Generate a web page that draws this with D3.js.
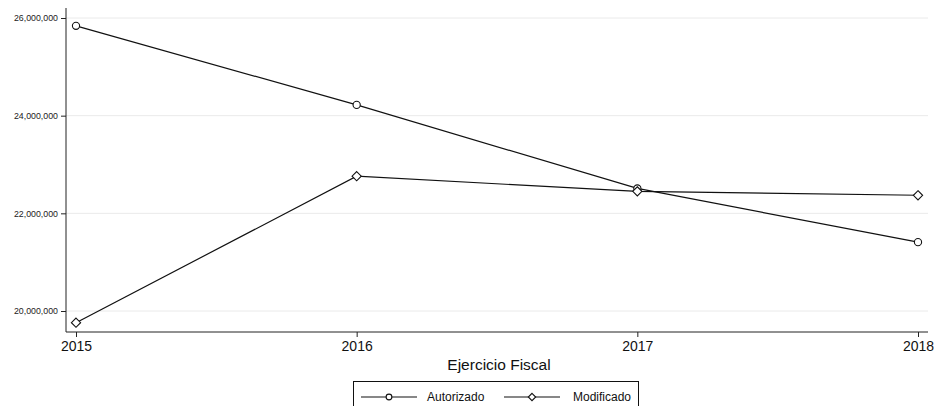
<!DOCTYPE html>
<html><head><meta charset="utf-8">
<script src="https://cdn.jsdelivr.net/npm/d3@7"></script>
<style>body{margin:0;background:#fff}svg{display:block;font-family:"Liberation Sans",Arial,sans-serif}</style>
</head><body><svg id="c" width="935" height="406"></svg>
<script>
const years = [2015, 2016, 2017, 2018];
const autorizado = [25840000, 24220000, 22510000, 21410000];
const modificado = [19760000, 22760000, 22450000, 22370000];
const yTicks = [20000000, 22000000, 24000000, 26000000];
const seriesNames = ["Autorizado", "Modificado"];

const FONT = "Liberation Sans, Arial, sans-serif";
const svg = d3.select("#c");
const L = 66, R = 928, T = 8, B = 332;
const x = d3.scaleLinear().domain([2015, 2018]).range([76, 918]);
const y = d3.scaleLinear().domain([20000000, 26000000]).range([311, 18]);

svg.append("g").selectAll("line").data(yTicks).join("line")
  .attr("x1", L).attr("x2", R).attr("y1", d => y(d)).attr("y2", d => y(d))
  .attr("stroke", "#eaeaea").attr("stroke-width", 1);

const ya = svg.append("g").attr("transform", `translate(${L},0)`)
  .call(d3.axisLeft(y).tickValues(yTicks).tickSize(5).tickPadding(3).tickFormat(d3.format(",")));
ya.attr("font-family", FONT);
ya.select(".domain").remove();
ya.selectAll("text").attr("font-size", 8.8).attr("fill", "#222");
ya.selectAll("line").attr("stroke", "#222");
svg.append("line").attr("x1", L).attr("x2", L).attr("y1", T).attr("y2", B).attr("stroke", "#222");

const xa = svg.append("g").attr("transform", `translate(0,${B})`)
  .call(d3.axisBottom(x).tickValues(years).tickSize(5).tickPadding(4).tickFormat(d3.format("d")));
xa.attr("font-family", FONT);
xa.select(".domain").remove();
xa.selectAll("text").attr("font-size", 14).attr("fill", "#111");
xa.selectAll("line").attr("stroke", "#222");
svg.append("line").attr("x1", L).attr("x2", R).attr("y1", B).attr("y2", B).attr("stroke", "#222");

svg.append("text").attr("x", 499).attr("y", 370).attr("text-anchor", "middle")
  .attr("font-size", 15.5).attr("fill", "#111").attr("font-family", FONT).text("Ejercicio Fiscal");

const line = d3.line().x((d, i) => x(years[i])).y(d => y(d));
const data = [autorizado, modificado];
data.forEach(s => {
  svg.append("path").attr("d", line(s)).attr("fill", "none").attr("stroke", "#111").attr("stroke-width", 1.2);
});

function marker(g, kind, cx, cy, sc) {
  if (kind === 0) {
    g.append("circle").attr("cx", cx).attr("cy", cy).attr("r", 3.6 * sc)
      .attr("fill", "#fff").attr("stroke", "#111").attr("stroke-width", 1.1);
  } else {
    const s = 4.6 * sc;
    g.append("path").attr("d", `M${cx},${cy - s}L${cx + s},${cy}L${cx},${cy + s}L${cx - s},${cy}Z`)
      .attr("fill", "#fff").attr("stroke", "#111").attr("stroke-width", 1.1);
  }
}
const mg = svg.append("g");
data.forEach((s, k) => s.forEach((v, i) => marker(mg, k, x(years[i]), y(v), 1)));

const lg = svg.append("g").attr("font-family", FONT);
lg.append("rect").attr("x", 353.5).attr("y", 381.5).attr("width", 285).attr("height", 40)
  .attr("fill", "#fff").attr("stroke", "#111").attr("stroke-width", 1);
const lx = [361, 504], tx = [427, 573];
seriesNames.forEach((n, k) => {
  const ly = 397;
  lg.append("line").attr("x1", lx[k]).attr("x2", lx[k] + 56).attr("y1", ly).attr("y2", ly)
    .attr("stroke", "#111").attr("stroke-width", 1.2);
  marker(lg, k, lx[k] + 28, ly, 0.8);
  lg.append("text").attr("x", tx[k]).attr("y", ly + 4).attr("font-size", 12)
    .attr("fill", "#111").text(n);
});
</script></body></html>
